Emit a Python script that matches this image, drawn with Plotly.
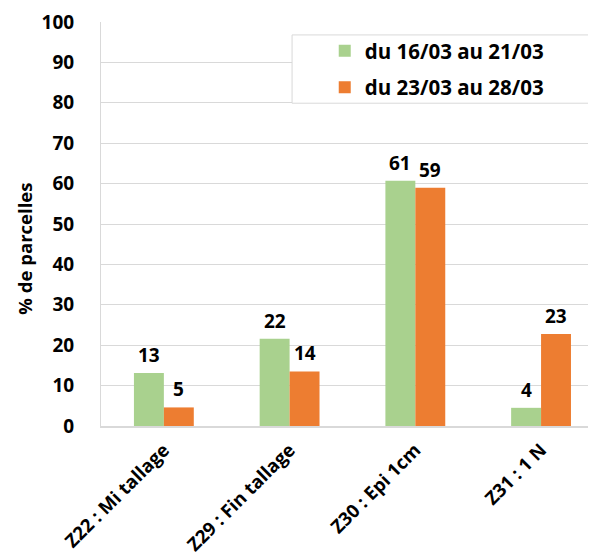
import plotly.graph_objects as go

categories = ["Z22 : Mi tallage", "Z29 : Fin tallage", "Z30 : Epi 1cm", "Z31 : 1 N"]
series_names = ["du 16/03 au 21/03", "du 23/03 au 28/03"]
values_1 = [13.1, 21.6, 60.7, 4.5]
values_2 = [4.6, 13.5, 59.0, 22.8]
labels_1 = [13, 22, 61, 4]
labels_2 = [5, 14, 59, 23]
y_ticks = list(range(0, 101, 10))

colors = ["#A9D18E", "#ED7D31"]
FONT = "Open Sans"

fig = go.Figure()
for name, vals, col in zip(series_names, [values_1, values_2], colors):
    fig.add_trace(go.Bar(
        x=categories, y=vals, name=f"<b>{name}</b>", marker_color=col,
        marker_line_width=0, legendgroup=name,
    ))

annotations = []
for vals, labs, sh in [(values_1, labels_1, -15), (values_2, labels_2, 15)]:
    for c, v, l in zip(categories, vals, labs):
        annotations.append(dict(
            x=c, y=v, xref="x", yref="y", text=f"<b>{l}</b>", showarrow=False,
            xshift=sh, yshift=3, yanchor="bottom", xanchor="center",
            font=dict(family=FONT, size=19, color="#000000"),
        ))
annotations.append(dict(
    x=0, y=0.439, xref="paper", yref="paper", text="<b>% de parcelles</b>",
    showarrow=False, textangle=-90, xshift=-76, xanchor="center", yanchor="middle",
    font=dict(family=FONT, size=18.5, color="#000000"),
))

fig.update_layout(
    width=588, height=549,
    margin=dict(l=93, r=0, t=14, b=131, pad=0, autoexpand=False),
    paper_bgcolor="white", plot_bgcolor="white",
    barmode="group", bargap=0.524, bargroupgap=0,
    font=dict(family=FONT, size=19, color="#000000"),
    showlegend=True,
    legend=dict(
        x=0.452, y=0.978, xanchor="left", yanchor="top",
        bgcolor="rgba(0,0,0,0)", borderwidth=0,
        font=dict(family=FONT, size=20.5, color="#000000"),
        traceorder="grouped", tracegroupgap=7,
    ),
    shapes=[dict(
        type="rect", xref="paper", yref="paper",
        x0=0.386, x1=0.994, y0=0.799, y1=0.968,
        line=dict(color="#D9D9D9", width=1), fillcolor="white", layer="above",
    )],
    annotations=annotations,
)
fig.update_xaxes(
    range=[-0.5, 3.437], showgrid=False, showline=True, linecolor="#D9D9D9",
    linewidth=2, ticks="", tickangle=-45, automargin=False,
    tickvals=categories, ticktext=[f"<b>{c}</b>" for c in categories],
    tickfont=dict(family=FONT, size=18.5, color="#000000"),
    ticklabelstandoff=4,
)
fig.update_yaxes(
    range=[0, 100], tickvals=y_ticks, ticktext=[f"<b>{t}</b>" for t in y_ticks],
    showgrid=True, gridcolor="#D9D9D9", gridwidth=1, automargin=False,
    showline=True, linecolor="#D9D9D9", linewidth=1, zeroline=False,
    ticks="", ticklabelstandoff=22,
    tickfont=dict(family=FONT, size=19, color="#000000"),
)

fig.write_html("out.html")
